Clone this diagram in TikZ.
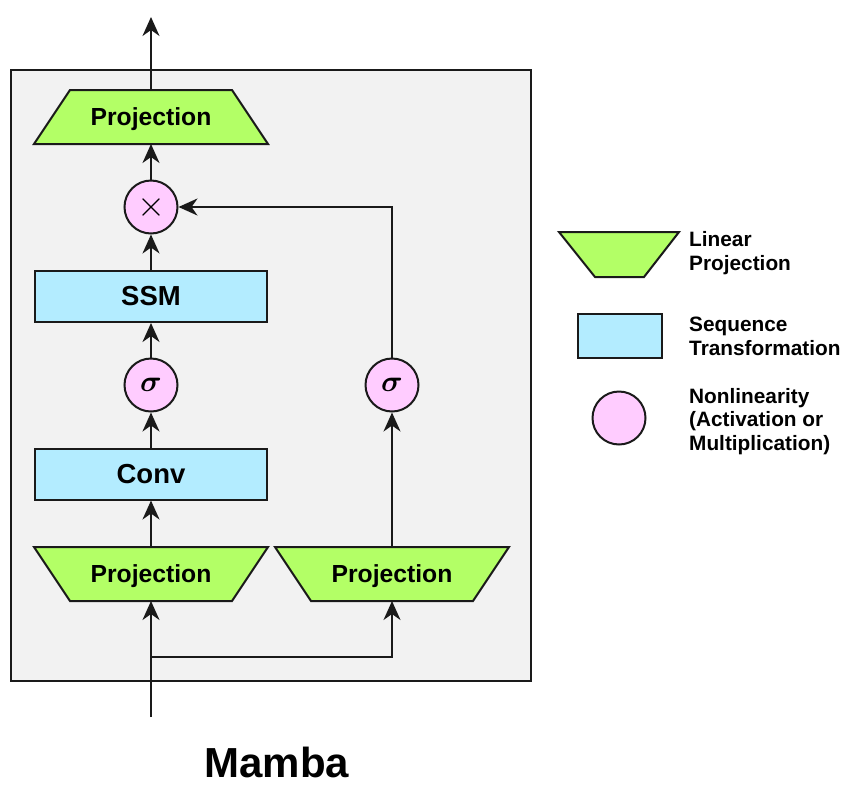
\documentclass[tikz,border=0pt]{standalone}
\usepackage{amsmath}
\usepackage{graphicx}
\usepackage{fontspec}
\setmainfont{Liberation Sans}
\usetikzlibrary{shapes.geometric,arrows.meta}
\definecolor{projgreen}{HTML}{B3FF66}
\definecolor{seqblue}{HTML}{B3ECFF}
\definecolor{nlpink}{HTML}{FFCCFF}
\definecolor{boxgray}{HTML}{F2F2F2}
\definecolor{edge}{HTML}{1A1A1A}
\newcommand{\sigsym}{\scalebox{3}{$\boldsymbol{\sigma}$}}
\newcommand{\mulsym}{\scalebox{3.6}{$\times$}}
\tikzset{
  x=1pt, y=-1pt,
  shapeline/.style={draw=edge, line width=2pt},
  trapfill/.style={shapeline, fill=projgreen, line join=miter},
  projbox/.style={rectangle, minimum width=234pt, minimum height=54pt, inner sep=0pt, outer sep=0pt,
    text height=17.7pt, text depth=0pt,
    font=\fontsize{24.7}{28}\selectfont\bfseries},
  seqbox/.style={shapeline, fill=seqblue, rectangle, minimum width=232pt, minimum height=51pt,
    inner sep=0pt, font=\fontsize{27.5}{30}\selectfont\bfseries},
  nlcirc/.style={shapeline, fill=nlpink, circle, minimum size=53pt, inner sep=0pt},
  arr/.style={draw=edge, line width=2pt, -{Stealth[length=19pt,width=17pt,inset=6pt]}},
  legtext/.style={anchor=west, align=left, inner sep=0pt,
    font=\fontsize{20.8}{23.5}\selectfont\bfseries}
}
\begin{document}
\begin{tikzpicture}
\useasboundingbox (0,0) rectangle (850,795);
% outer block
\node[draw=edge, line width=1.8pt, fill=boxgray, minimum width=520pt, minimum height=611pt,
  inner sep=0pt] (block) at (271,375.5) {};
% trapezoid shapes
\draw[trapfill] (34,144) -- (268,144) -- (232,90) -- (70,90) -- cycle;
\draw[trapfill] (34,547) -- (268,547) -- (232,601) -- (70,601) -- cycle;
\draw[trapfill] (275,547) -- (509,547) -- (473,601) -- (311,601) -- cycle;
\draw[trapfill] (559,232) -- (679,232) -- (644,277) -- (595,277) -- cycle;
% left column
\node[projbox] (proj3) at (151,117) {Projection};
\node[nlcirc] (mul) at (151,207) {\mulsym};
\node[seqbox] (ssm) at (151,296.5) {SSM};
\node[nlcirc] (sig1) at (151,385) {\sigsym};
\node[seqbox] (conv) at (151,474) {Conv};
\node[projbox] (proj1) at (151,574) {Projection};
% right column
\node[projbox] (proj2) at (392,574) {Projection};
\node[nlcirc] (sig2) at (392,385) {\sigsym};
% free ends
\coordinate (out) at (151,17);
\coordinate (in) at (151,717);
\coordinate (br) at (151,657);
% connectors
\draw[arr] (proj3) -- (out);
\draw[arr] (mul) -- (proj3);
\draw[arr] (ssm) -- (mul);
\draw[arr] (sig1) -- (ssm);
\draw[arr] (conv) -- (sig1);
\draw[arr] (proj1) -- (conv);
\draw[arr] (in) -- (proj1);
\draw[arr] (br) -| (proj2);
\draw[arr] (proj2) -- (sig2);
\draw[arr] (sig2) |- (mul);
% title
\node[font=\fontsize{42}{46}\selectfont\bfseries] (title) at (277,762) {Mamba};
% legend
\node[rectangle, minimum width=120pt, minimum height=45pt, inner sep=0pt] (legproj) at (619,254.5) {};
\node[shapeline, fill=seqblue, rectangle, minimum width=84pt, minimum height=44pt, inner sep=0pt]
  (legseq) at (619.5,335.5) {};
\node[nlcirc] (legnl) at (619,418) {};
\node[legtext] (legprojtext) at (689,253) {Linear\\Projection};
\node[legtext] (legseqtext) at (689,336.5) {Sequence\\Transformation};
\node[legtext] (legnltext) at (689,421.5) {Nonlinearity\\(Activation or\\Multiplication)};
\end{tikzpicture}
\end{document}
